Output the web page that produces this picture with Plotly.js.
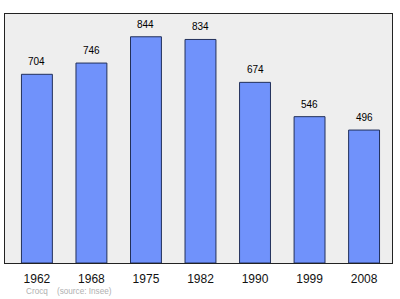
<!DOCTYPE html>
<html><head><meta charset="utf-8">
<script src="https://cdn.plot.ly/plotly-3.0.1.min.js"></script>
<style>html,body{margin:0;padding:0;background:#fff;}#c{width:400px;height:299px;}</style>
</head><body><div id="c"></div>
<script>
const years = ["1962","1968","1975","1982","1990","1999","2008"];
const population = [704, 746, 844, 834, 674, 546, 496];
const footer = "Crocq&nbsp;&nbsp;&nbsp;&nbsp;(source: Insee)";

const idx = years.map((_, i) => i);
const data = [{
  type: 'bar', x: idx, y: population, width: 0.567,
  marker: {color: '#7092fb', line: {color: '#22305a', width: 1}},
  hoverinfo: 'none'
}];
const annotations = population.map((v, i) => ({
  x: i, y: v, xref: 'x', yref: 'y', text: String(v), showarrow: false,
  yanchor: 'bottom', yshift: 5, font: {family: 'Liberation Sans, Arial, sans-serif', size: 10, color: '#000'}
}));
annotations.push({
  xref: 'paper', yref: 'paper', x: 0.05, y: -0.114, xanchor: 'left', yanchor: 'middle',
  text: footer, showarrow: false, font: {family: 'Liberation Sans, Arial, sans-serif', size: 8.2, color: '#b0b0b0'}
});
const layout = {
  width: 400, height: 299,
  margin: {l: 4.5, r: 7.5, t: 13.5, b: 35.5},
  paper_bgcolor: '#ffffff', plot_bgcolor: '#eeeeee',
  showlegend: false,
  xaxis: {range: [-0.585, 6.512], tickvals: idx, ticktext: years, ticks: '', showgrid: false, zeroline: false,
    showline: true, mirror: true, linecolor: '#222', linewidth: 1, ticklabelstandoff: 5,
    tickfont: {family: 'Liberation Sans, Arial, sans-serif', size: 12, color: '#111'}},
  yaxis: {range: [0, 929], showticklabels: false, ticks: '', showgrid: false, zeroline: false,
    showline: true, mirror: true, linecolor: '#222', linewidth: 1},
  annotations: annotations
};
Plotly.newPlot('c', data, layout, {staticPlot: true});
</script></body></html>
